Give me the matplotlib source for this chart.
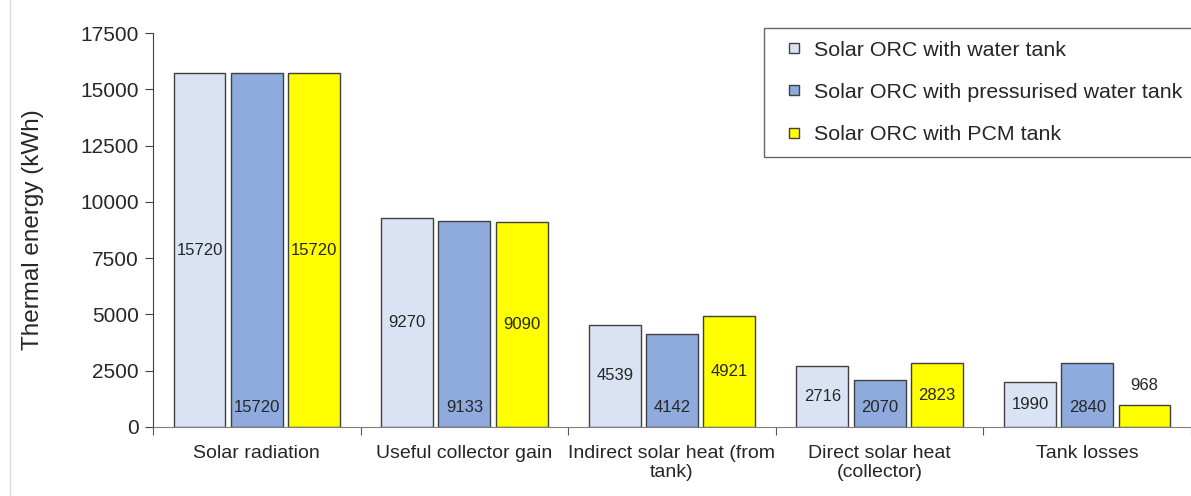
import numpy as np
import matplotlib.pyplot as plt
from matplotlib.lines import Line2D

plt.rcParams['font.family'] = ['Liberation Sans', 'DejaVu Sans']

categories = ['Solar radiation', 'Useful collector gain', 'Indirect solar heat (from\ntank)',
              'Direct solar heat\n(collector)', 'Tank losses']
series_names = ['Solar ORC with water tank', 'Solar ORC with pressurised water tank',
                'Solar ORC with PCM tank']
water_tank = [15720, 9270, 4539, 2716, 1990]
pressurised_tank = [15720, 9133, 4142, 2070, 2840]
pcm_tank = [15720, 9090, 4921, 2823, 968]

colors = ['#DAE3F3', '#8FAADC', '#FFFF00']
edge = '#404040'

fig = plt.figure(figsize=(11.91, 4.96), dpi=100)
ax = fig.add_axes([153 / 1191, 69 / 496, 1 - 153 / 1191, 394 / 496])

ind = np.arange(len(categories))
width = 0.25
step = 0.276

bars1 = ax.bar(ind - step, water_tank, width, color=colors[0], edgecolor=edge, linewidth=1)
bars2 = ax.bar(ind, pressurised_tank, width, color=colors[1], edgecolor=edge, linewidth=1)
bars3 = ax.bar(ind + step, pcm_tank, width, color=colors[2], edgecolor=edge, linewidth=1)

lab_kw = dict(fontsize=12, color='#262626', ha='center', va='center')
# water tank: centre of bar
for r in bars1:
    h = r.get_height()
    ax.text(r.get_x() + r.get_width() / 2, h / 2, '{}'.format(int(h)), **lab_kw)
# pressurised: inside base
for r in bars2:
    h = r.get_height()
    ax.annotate('{}'.format(int(h)), xy=(r.get_x() + r.get_width() / 2, 0),
                xytext=(0, 14), textcoords='offset points', **lab_kw)
# PCM: centre, small bar gets label above
for r in bars3:
    h = r.get_height()
    if h < 1500:
        ax.annotate('{}'.format(int(h)), xy=(r.get_x() + r.get_width() / 2, h),
                    xytext=(0, 14), textcoords='offset points', **lab_kw)
    else:
        ax.text(r.get_x() + r.get_width() / 2, h / 2, '{}'.format(int(h)), **lab_kw)

ax.set_xlim(-0.5, len(categories) - 0.5)
ax.set_ylim(0, 17500)
ax.set_yticks(np.arange(0, 17501, 2500))
ax.set_xticks(np.arange(len(categories) + 1) - 0.5)
ax.set_xticklabels([])
ax.set_xticks(ind, minor=True)
ax.set_xticklabels(categories, minor=True, fontsize=14, color='#262626', linespacing=1.15)
ax.tick_params(axis='x', which='minor', length=0, pad=13)
ax.tick_params(axis='x', which='major', length=6, color='#595959', direction='out')
ax.tick_params(axis='y', length=6, color='#404040', labelsize=15, labelcolor='#262626', pad=4)

for s in ['top', 'right']:
    ax.spines[s].set_visible(False)
ax.spines['left'].set_color('#404040')
ax.spines['bottom'].set_color('#7f7f7f')
ax.set_ylabel('Thermal energy (kWh)', fontsize=17.5, color='#262626', labelpad=26)

# legend with small square markers
handles = [Line2D([], [], linestyle='none', marker='s', markersize=7, markerfacecolor=c,
                  markeredgecolor=edge, markeredgewidth=1) for c in colors]
leg = fig.legend(handles, series_names, loc='upper left', bbox_to_anchor=(764 / 1191, 1 - 28 / 496),
                 fontsize=15.4, frameon=True, fancybox=False, handlelength=1.65,
                 handletextpad=0.1, labelspacing=1.08, borderpad=0.6, borderaxespad=0)
leg.get_frame().set_edgecolor('#404040')
leg.get_frame().set_linewidth(1)
for t in leg.get_texts():
    t.set_color('#262626')

fig.add_artist(Line2D([10 / 1191, 10 / 1191], [0, 1], color='#d9d9d9', linewidth=1))

plt.savefig('out.png', dpi=100)
